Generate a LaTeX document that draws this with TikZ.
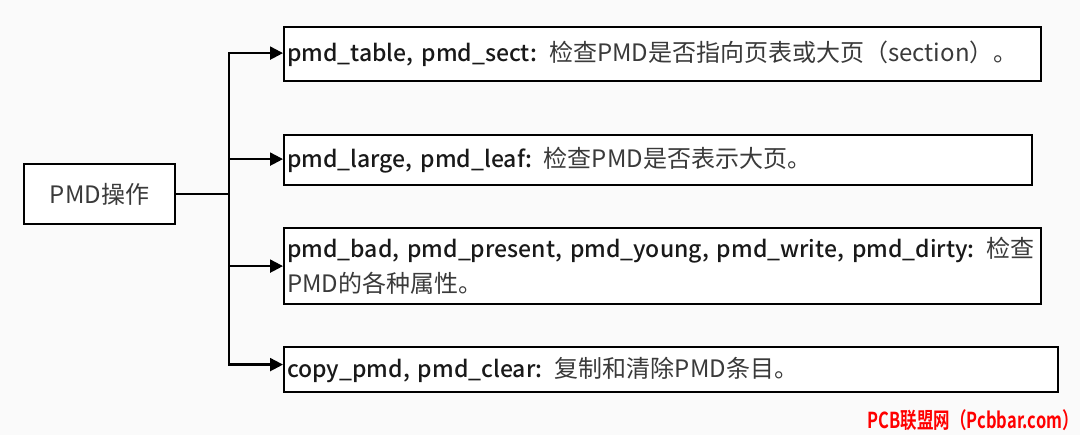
\documentclass[tikz,border=0pt]{standalone}
\usepackage{fontspec}
\setmainfont{Noto Sans CJK SC}[BoldFont={Noto Sans CJK SC Medium}, WordSpace=0.35]
\newfontfamily\markfont{Noto Sans CJK SC Bold}
\usepackage{xcolor}
\usepackage{graphicx}
\usetikzlibrary{arrows.meta}

\definecolor{bgcol}{HTML}{FAFAFA}
\definecolor{txtcol}{HTML}{3A3A3A}
\newcommand{\opkey}[1]{{\color{black!90}\bfseries\fontsize{23}{35}\selectfont #1}}
\tikzset{
	opbox/.style={draw, fill=white, line width=2.2pt, inner xsep=3pt, inner ysep=0pt, align=left, anchor=north west, text=txtcol, font=\fontsize{24}{35}\selectfont},
	link/.style={line width=2.2pt},
	linkarr/.style={link, -{Triangle[length=13pt,width=13pt]}}
}

\begin{document}
\begin{tikzpicture}[x=1pt, y=-1pt]
			\useasboundingbox (0,0) rectangle (1080,435);
			\fill[bgcol] (0,0) rectangle (1080,435);
			\node[opbox, anchor=center, align=center, minimum width=151pt, minimum height=60pt] at(99.5,194) (pmdop){PMD操作};
			\node[opbox, text width=751pt, minimum height=54pt] at(283,26) (chk){\opkey{pmd\_table, pmd\_sect:} 检查PMD是否指向页表或大页（section）。};
			\node[opbox, text width=742pt, minimum height=50pt] at(283,134) (large){\opkey{pmd\_large, pmd\_leaf:} 检查PMD是否表示大页。};
			\node[opbox, text width=751pt, minimum height=76pt] at(283,227) (attr){\mbox{\opkey{pmd\_bad, pmd\_present, pmd\_young, pmd\_write, pmd\_dirty:} 检查}\\PMD的各种属性。};
			\node[opbox, text width=768pt, minimum height=45pt] at(283,346) (clr){\opkey{copy\_pmd, pmd\_clear:} 复制和清除PMD条目。};
			\node[anchor=south east, inner sep=0pt, text=red, font=\markfont\fontsize{22}{22}\selectfont] at(1079,431) (mark){\scalebox{0.75}[1]{PCB联盟网（Pcbbar.com）}};
			\coordinate (fork) at(229,194);
			\draw[link] (pmdop.east) -- (fork);
			\draw[linkarr] (fork) |- ([yshift=1pt]chk.west);
			\draw[linkarr] (fork) |- ([yshift=1pt]large.west);
			\draw[linkarr] (fork) |- (attr.west);
			\draw[linkarr] (fork) |- ([yshift=5pt]clr.west);
		\end{tikzpicture}
\end{document}
